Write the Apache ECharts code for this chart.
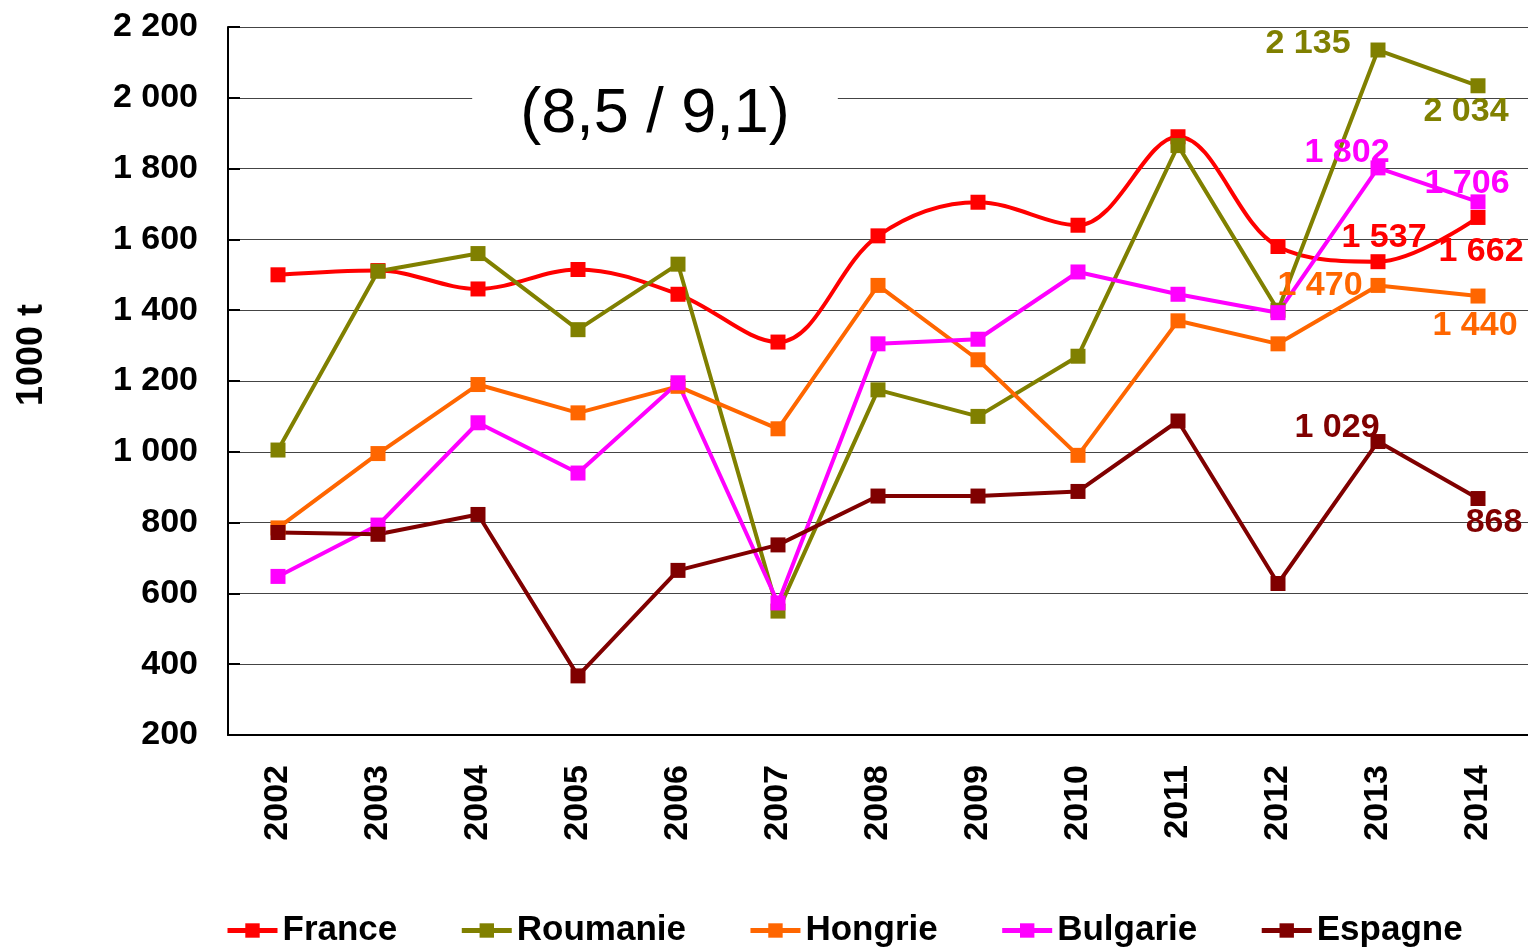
<!DOCTYPE html>
<html>
<head>
<meta charset="utf-8">
<script src="https://cdn.jsdelivr.net/npm/echarts@6/dist/echarts.min.js"></script>
<style>
  html, body { margin: 0; padding: 0; background: #fff; }
  #chart { width: 1528px; height: 949px; }
</style>
</head>
<body>
<div id="chart"></div>
<script>
var years = ['2002', '2003', '2004', '2005', '2006', '2007', '2008', '2009', '2010', '2011', '2012', '2013', '2014'];
var france = [1500, 1512, 1460, 1515, 1445, 1310, 1610, 1705, 1640, 1890, 1580, 1537, 1662];
var roumanie = [1005, 1510, 1560, 1345, 1530, 550, 1175, 1100, 1270, 1865, 1400, 2135, 2034];
var hongrie = [785, 995, 1190, 1110, 1185, 1065, 1470, 1260, 990, 1370, 1305, 1470, 1440];
var bulgarie = [648, 793, 1082, 940, 1195, 573, 1305, 1318, 1508, 1445, 1393, 1802, 1706];
var espagne = [772, 767, 823, 367, 665, 737, 875, 875, 888, 1087, 628, 1029, 868];
var yTicks = [200, 400, 600, 800, 1000, 1200, 1400, 1600, 1800, 2000, 2200];

function fmt(v) {
  return String(v).replace(/\B(?=(\d{3})+(?!\d))/g, ' ');
}

var font = '"Liberation Sans", Arial, sans-serif';

// label offsets for the last two years (px from the point)
var labelOffsets = {
  France: [[6, -24], [3, 34]],
  Roumanie: [[-70, -6], [-12, 26]],
  Hongrie: [[-58, 0], [-3, 30]],
  Bulgarie: [[-31, -15], [-11, -18]],
  Espagne: [[-41, -14], [16, 24]]
};

function makeSeries(name, values, color, smooth) {
  var offs = labelOffsets[name];
  var data = values.map(function (v, i) {
    var item = { value: v };
    var k = i - (values.length - 2);
    if (k >= 0) {
      item.label = {
        show: true,
        position: 'inside',
        offset: offs[k],
        formatter: function (p) { return fmt(p.value); },
        color: color,
        fontSize: 34,
        fontWeight: 'bold',
        fontFamily: font
      };
    }
    return item;
  });
  return {
    name: name,
    type: 'line',
    data: data,
    smooth: smooth ? 0.35 : false,
    symbol: 'rect',
    symbolSize: 15,
    lineStyle: { width: 4, color: color },
    itemStyle: { color: color },
    emphasis: { disabled: true }
  };
}

var myChart = echarts.init(document.getElementById('chart'));
var option = {
  animation: false,
  grid: {
    left: 228,
    right: 0,
    top: 27,
    bottom: 214
  },
  legend: {
    top: 908,
    left: 220,
    itemWidth: 50,
    itemHeight: 18,
    itemGap: 62,
    lineStyle: { width: 5 },
    textStyle: {
      color: '#000',
      fontSize: 35,
      fontWeight: 'bold',
      fontFamily: font
    },
    data: ['France', 'Roumanie', 'Hongrie', 'Bulgarie', 'Espagne']
  },
  xAxis: {
    type: 'category',
    data: years,
    boundaryGap: true,
    axisLine: { lineStyle: { color: '#000', width: 2 } },
    axisTick: { show: false },
    axisLabel: {
      rotate: 90,
      margin: 30,
      color: '#000',
      fontSize: 34,
      fontWeight: 'bold',
      fontFamily: font
    }
  },
  yAxis: {
    type: 'value',
    min: yTicks[0],
    max: yTicks[yTicks.length - 1],
    interval: 200,
    axisLine: { show: true, lineStyle: { color: '#000', width: 2 } },
    axisTick: { show: true, inside: true, length: 12, lineStyle: { color: '#000', width: 2 } },
    splitLine: { lineStyle: { color: '#444', width: 1 } },
    axisLabel: {
      margin: 30,
      color: '#000',
      fontSize: 34,
      fontWeight: 'bold',
      fontFamily: font,
      formatter: function (v) { return fmt(v); }
    }
  },
  graphic: [{
    type: 'text',
    x: 32,
    y: 355,
    rotation: Math.PI / 2,
    style: {
      text: '1000 t',
      fill: '#000',
      font: 'bold 36px ' + font,
      align: 'center',
      verticalAlign: 'middle'
    }
  }, {
    type: 'text',
    x: 655,
    y: 115,
    z: 10,
    style: {
      text: '(8,5 / 9,1)',
      fill: '#000',
      font: '63px ' + font,
      align: 'center',
      verticalAlign: 'middle',
      backgroundColor: '#fff',
      padding: [4, 48]
    }
  }],
  series: [
    makeSeries('France', france, '#ff0000', true),
    makeSeries('Roumanie', roumanie, '#808000', false),
    makeSeries('Hongrie', hongrie, '#ff6600', false),
    makeSeries('Bulgarie', bulgarie, '#ff00ff', false),
    makeSeries('Espagne', espagne, '#800000', false)
  ]
};
myChart.setOption(option);
</script>
</body>
</html>
